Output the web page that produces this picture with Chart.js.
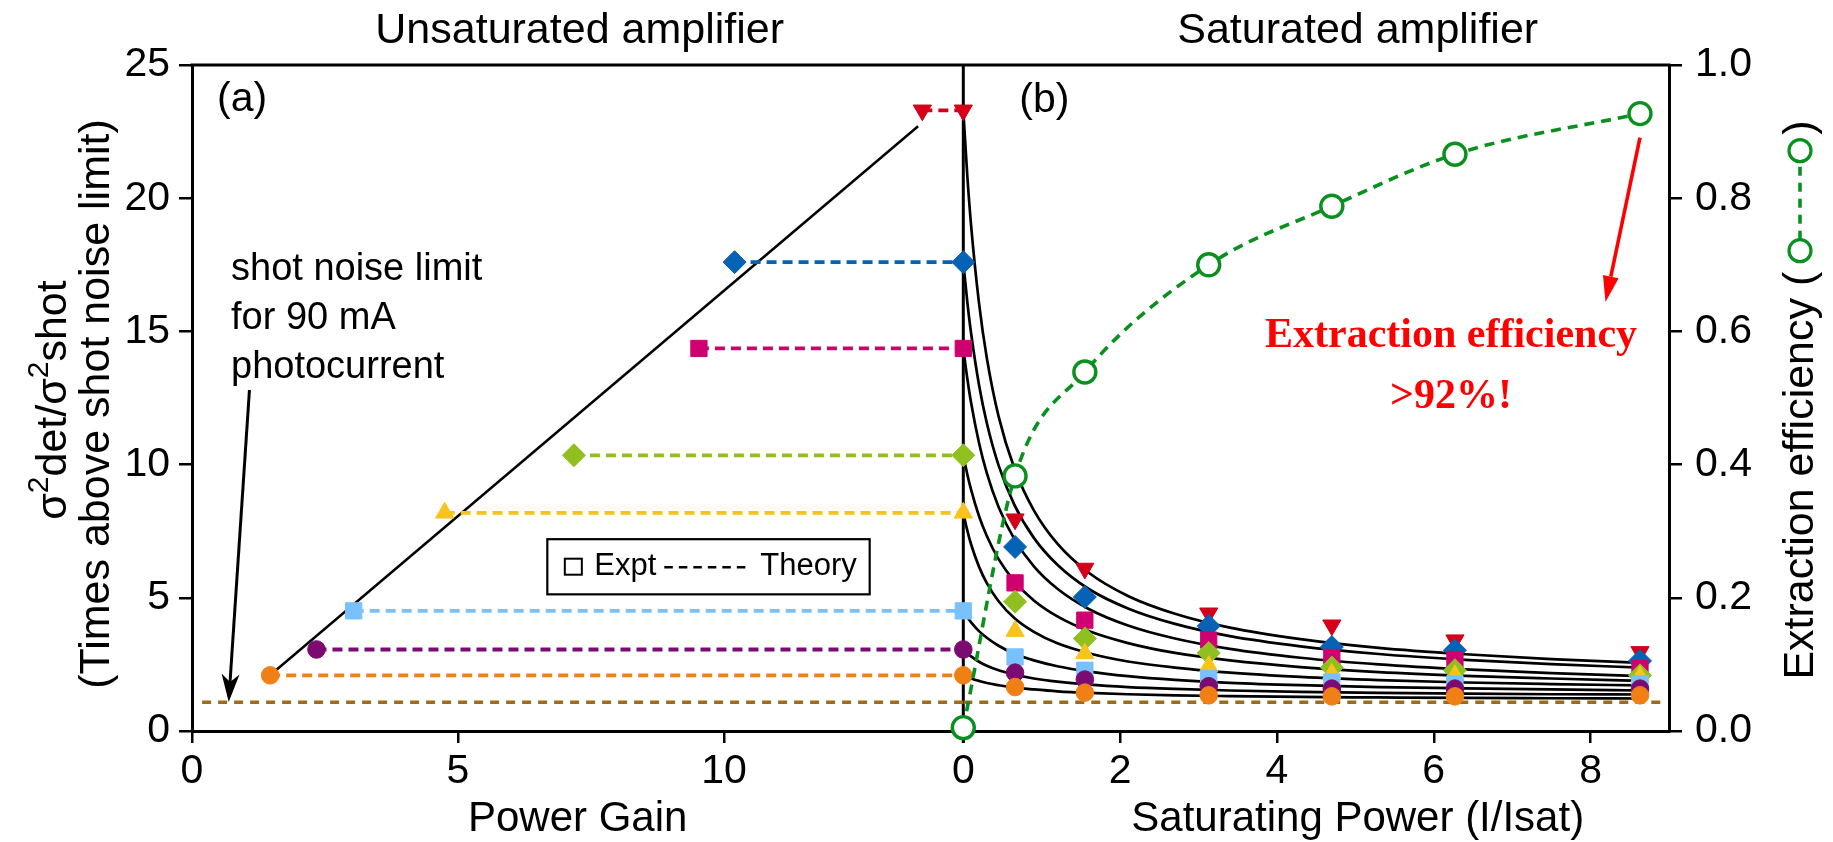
<!DOCTYPE html>
<html>
<head>
<meta charset="utf-8">
<title>Amplifier noise: unsaturated vs saturated</title>
<script src="https://cdn.jsdelivr.net/npm/chart.js@4.4.1/dist/chart.umd.min.js"></script>
<style>
html,body{margin:0;padding:0;background:#ffffff;overflow:hidden;}
#wrap{position:relative;width:1833px;height:842px;}
canvas{display:block;}
</style>
</head>
<body>
<div id="wrap"><canvas id="chart" width="1833" height="842"></canvas></div>
<script>
// ================= DATA =================
// Left panel (a): unsaturated amplifier, x = power gain
const gainValues   = [13.73, 10.2, 9.53, 7.18, 4.75, 3.04, 2.34, 1.47];
const unsatNoise   = [23.3, 17.6, 14.36, 10.35, 8.19, 4.51, 3.06, 2.09];
const gainLineX    = [1.5, 13.65];
const gainLineY    = [2.15, 22.7];
const shotNoiseLimit = 1.08;
const shotLimitGainX = [0.19, 14.5];
const shotLimitSatX  = [0, 8.95];

// Right panel (b): saturated amplifier, x = saturating power I/Isat
const satPower     = [0, 0.66, 1.55, 3.13, 4.70, 6.27, 8.63];
const noiseRed       = [23.3, 7.95, 6.10, 4.42, 3.97, 3.41, 2.97];
const noiseBlue      = [17.6, 6.91, 5.03, 3.94, 3.15, 3.03, 2.63];
const noisePink      = [14.36, 5.56, 4.16, 3.41, 2.76, 2.68, 2.34];
const noiseLime      = [10.35, 4.85, 3.47, 2.93, 2.38, 2.28, 2.09];
const noiseYellow    = [8.19, 3.75, 2.91, 2.43, 2.15, 2.09, 2.05];
const noiseLightBlue = [4.51, 2.78, 2.28, 1.97, 1.84, 1.78, 1.78];
const noisePurple    = [3.06, 2.19, 1.93, 1.68, 1.59, 1.59, 1.59];
const noiseOrange    = [2.09, 1.65, 1.44, 1.34, 1.30, 1.30, 1.34];

// Theory curves
const theoryPower = [0, 0.05, 0.1, 0.2, 0.3, 0.45, 0.65, 0.9, 1.2, 1.6, 2.1, 2.7, 3.4, 4.3, 5.3, 6.4, 7.5, 8.65];
const theoryRed       = [23.3, 20.89, 18.96, 16.07, 14.0, 11.81, 9.87, 8.28, 7.03, 5.94, 5.07, 4.4, 3.88, 3.45, 3.12, 2.88, 2.7, 2.56];
const theoryBlue      = [17.6, 16.14, 14.92, 13.0, 11.56, 9.97, 8.5, 7.25, 6.24, 5.33, 4.6, 4.02, 3.56, 3.18, 2.89, 2.67, 2.51, 2.38];
const theoryPink      = [14.36, 13.25, 12.31, 10.82, 9.68, 8.41, 7.21, 6.18, 5.34, 4.58, 3.96, 3.47, 3.08, 2.75, 2.5, 2.31, 2.17, 2.06];
const theoryLime      = [10.35, 9.65, 9.05, 8.07, 7.32, 6.45, 5.63, 4.9, 4.3, 3.75, 3.3, 2.93, 2.65, 2.4, 2.21, 2.07, 1.97, 1.88];
const theoryYellow    = [8.19, 7.54, 7.0, 6.17, 5.55, 4.87, 4.24, 3.72, 3.29, 2.92, 2.61, 2.38, 2.19, 2.03, 1.91, 1.82, 1.76, 1.71];
const theoryLightBlue = [4.51, 4.28, 4.08, 3.75, 3.5, 3.2, 2.9, 2.65, 2.43, 2.23, 2.06, 1.92, 1.81, 1.72, 1.65, 1.6, 1.56, 1.52];
const theoryPurple    = [3.06, 2.92, 2.8, 2.6, 2.45, 2.28, 2.12, 1.97, 1.85, 1.74, 1.65, 1.58, 1.52, 1.47, 1.43, 1.4, 1.38, 1.37];
const theoryOrange    = [2.09, 2.03, 1.97, 1.88, 1.8, 1.72, 1.63, 1.56, 1.49, 1.43, 1.38, 1.34, 1.31, 1.28, 1.26, 1.24, 1.23, 1.22];

// Extraction efficiency (right axis)
const efficiency = [0.005, 0.383, 0.539, 0.70, 0.788, 0.866, 0.927];

// Tick labels
const gainTicks  = [0, 5, 10];
const satTicks   = [0, 2, 4, 6, 8];
const noiseTicks = [0, 5, 10, 15, 20, 25];
const effTicks   = [0, 0.2, 0.4, 0.6, 0.8, 1.0];

// ================= STYLES =================
const SANS  = '"Liberation Sans", Arial, Helvetica, sans-serif';
const SERIF = '"Liberation Serif", "Times New Roman", serif';
const BROWN = '#9a6c1c';
const GREEN = '#0a901e';
const seriesStyle = [
  { color: '#d4001a', shape: 'triangle', radius: 10.5, rotation: 180 },
  { color: '#0562b4', shape: 'rectRot',  radius: 11.5, rotation: 0 },
  { color: '#cf0070', shape: 'rect',     radius: 11.5, rotation: 0 },
  { color: '#90c020', shape: 'rectRot',  radius: 11.5, rotation: 0 },
  { color: '#f7c31c', shape: 'triangle', radius: 10.5, rotation: 0 },
  { color: '#78c1fd', shape: 'rect',     radius: 11.5, rotation: 0 },
  { color: '#7b0b71', shape: 'circle',   radius: 8.8,  rotation: 0 },
  { color: '#f08015', shape: 'circle',   radius: 8.8,  rotation: 0 }
];
const saturatedNoise = [noiseRed, noiseBlue, noisePink, noiseLime, noiseYellow, noiseLightBlue, noisePurple, noiseOrange];
const theoryCurves = [theoryRed, theoryBlue, theoryPink, theoryLime, theoryYellow, theoryLightBlue, theoryPurple, theoryOrange];

const GAIN_MAX = 14.5, SAT_MAX = 9.0;

// ================= DATASETS =================
const datasets = [];
theoryCurves.forEach((curve, i) => {
  datasets.push({
    label: 'Theory ' + (i + 1), xAxisID: 'x2', yAxisID: 'y',
    data: theoryPower.map((x, j) => ({ x, y: curve[j] })),
    showLine: true, borderColor: '#000', borderWidth: 2.7, pointRadius: 0,
    cubicInterpolationMode: 'monotone', order: 60
  });
});
datasets.push({
  label: 'Gain theory', xAxisID: 'x1', yAxisID: 'y',
  data: gainLineX.map((x, j) => ({ x, y: gainLineY[j] })),
  showLine: true, borderColor: '#000', borderWidth: 2.5, pointRadius: 0, order: 60
});
datasets.push({
  label: 'Shot noise limit', xAxisID: 'x1', yAxisID: 'y',
  data: shotLimitGainX.map(x => ({ x, y: shotNoiseLimit })),
  showLine: true, borderColor: BROWN, borderWidth: 3.6, borderDash: [9, 7], pointRadius: 0, order: 55
});
datasets.push({
  label: 'Shot noise limit (b)', xAxisID: 'x2', yAxisID: 'y',
  data: shotLimitSatX.map(x => ({ x, y: shotNoiseLimit })),
  showLine: true, borderColor: BROWN, borderWidth: 3.6, borderDash: [9, 7], pointRadius: 0, order: 55
});
gainValues.forEach((g, i) => {
  const st = seriesStyle[i];
  datasets.push({
    label: 'Unsaturated ' + (i + 1), xAxisID: 'x1', yAxisID: 'y',
    data: [{ x: g, y: unsatNoise[i] }, { x: GAIN_MAX, y: unsatNoise[i] }],
    showLine: true, borderColor: st.color, borderWidth: 3.8, borderDash: [10, 6],
    pointStyle: st.shape, pointRotation: st.rotation, pointRadius: [st.radius, 0],
    pointBackgroundColor: st.color, pointBorderColor: st.color, pointBorderWidth: 1,
    clip: false, order: 40 - i
  });
});
saturatedNoise.forEach((arr, i) => {
  const st = seriesStyle[i];
  datasets.push({
    label: 'Saturated ' + (i + 1), xAxisID: 'x2', yAxisID: 'y',
    data: satPower.map((x, j) => ({ x, y: arr[j] })),
    showLine: false, pointStyle: st.shape, pointRotation: st.rotation, pointRadius: st.radius,
    pointBackgroundColor: st.color, pointBorderColor: st.color, pointBorderWidth: 1,
    clip: false, order: 20 - i
  });
});
datasets.push({
  label: 'Extraction efficiency', xAxisID: 'x2', yAxisID: 'y2',
  data: satPower.map((x, j) => ({ x, y: efficiency[j] })),
  showLine: true, borderColor: GREEN, borderWidth: 3.6, borderDash: [10, 7],
  cubicInterpolationMode: 'monotone',
  pointStyle: 'circle', pointRadius: 11, pointBackgroundColor: '#ffffff',
  pointBorderColor: GREEN, pointBorderWidth: 3.4, clip: false, order: 0
});

// ================= ANNOTATIONS =================
const notes = {
  shotArrow: { from: [1.08, 12.8], to: [0.69, 1.09] },      // x1 / y
  effArrow:  { from: [8.63, 0.891], to: [8.19, 0.644] },    // x2 / y2
  legendBox: { x: [6.68, 12.74], y: [7.2, 5.13] },          // x1 / y
  redText:   { x: 6.22, y: [14.41, 12.12] }                 // x2 / y
};

function drawArrow(ctx, x0, y0, x1, y1, color, lw, headLen, headHalf, notch) {
  const ang = Math.atan2(y1 - y0, x1 - x0);
  const c = Math.cos(ang), s = Math.sin(ang);
  const bx = x1 - headLen * c, by = y1 - headLen * s;
  ctx.save();
  ctx.setLineDash([]);
  ctx.strokeStyle = color; ctx.lineWidth = lw; ctx.lineCap = 'butt';
  ctx.beginPath(); ctx.moveTo(x0, y0); ctx.lineTo(bx + notch * c, by + notch * s); ctx.stroke();
  ctx.fillStyle = color;
  ctx.beginPath();
  ctx.moveTo(x1, y1);
  ctx.lineTo(bx - headHalf * s, by + headHalf * c);
  ctx.lineTo(bx + notch * c, by + notch * s);
  ctx.lineTo(bx + headHalf * s, by - headHalf * c);
  ctx.closePath(); ctx.fill();
  ctx.restore();
}

function text(ctx, str, x, y, font, color, align) {
  ctx.font = font; ctx.fillStyle = color; ctx.textAlign = align || 'left';
  ctx.textBaseline = 'alphabetic'; ctx.fillText(str, x, y);
}

const decor = {
  id: 'decor',
  beforeDatasetsDraw(chart) {
    const ctx = chart.ctx, a = chart.chartArea, s = chart.scales;
    ctx.save();
    ctx.strokeStyle = '#000'; ctx.lineWidth = 3; ctx.setLineDash([]);
    ctx.beginPath(); ctx.moveTo(a.left - 1.5, a.top); ctx.lineTo(a.right + 1.5, a.top); ctx.stroke();
    const xd = s.x2.getPixelForValue(0);
    ctx.beginPath(); ctx.moveTo(xd, a.top); ctx.lineTo(xd, a.bottom + 12); ctx.stroke();
    ctx.restore();
  },
  afterDatasetsDraw(chart) {
    const ctx = chart.ctx, a = chart.chartArea, s = chart.scales;
    const X1 = v => s.x1.getPixelForValue(v), X2 = v => s.x2.getPixelForValue(v);
    const Y = v => s.y.getPixelForValue(v), Y2 = v => s.y2.getPixelForValue(v);
    ctx.save();

    // Panel titles
    const leftMid = (s.x1.left + s.x1.right) / 2;
    text(ctx, 'Unsaturated amplifier', leftMid + 2, 43, '43px ' + SANS, '#000', 'center');
    text(ctx, 'Saturated amplifier', X2(5.03), 43, '43px ' + SANS, '#000', 'center');
    // Axis titles
    text(ctx, 'Power Gain', leftMid, 831, '42px ' + SANS, '#000', 'center');
    text(ctx, 'Saturating Power (I/Isat)', X2(5.03), 831, '42px ' + SANS, '#000', 'center');
    // Panel letters
    text(ctx, '(a)', a.left + 25, 111, '41px ' + SANS, '#000', 'left');
    text(ctx, '(b)', X2(0) + 56, 112, '41px ' + SANS, '#000', 'left');
    // Shot noise note
    text(ctx, 'shot noise limit', a.left + 39, 280, '38px ' + SANS, '#000', 'left');
    text(ctx, 'for 90 mA', a.left + 39, 329, '38px ' + SANS, '#000', 'left');
    text(ctx, 'photocurrent', a.left + 39, 378, '38px ' + SANS, '#000', 'left');
    drawArrow(ctx, X1(notes.shotArrow.from[0]), Y(notes.shotArrow.from[1]),
              X1(notes.shotArrow.to[0]), Y(notes.shotArrow.to[1]), '#000', 3, 28, 9, 8);

    // Legend box
    const bl = X1(notes.legendBox.x[0]), br = X1(notes.legendBox.x[1]);
    const bt = Y(notes.legendBox.y[0]), bb = Y(notes.legendBox.y[1]);
    ctx.setLineDash([]);
    ctx.fillStyle = '#fff'; ctx.fillRect(bl, bt, br - bl, bb - bt);
    ctx.strokeStyle = '#000'; ctx.lineWidth = 2.2; ctx.strokeRect(bl, bt, br - bl, bb - bt);
    ctx.lineWidth = 2; ctx.strokeRect(bl + 17.5, bt + 19.5, 17, 16);
    text(ctx, 'Expt', bl + 47, bt + 36, '31px ' + SANS, '#000', 'left');
    ctx.setLineDash([8.5, 6]); ctx.lineWidth = 2.6;
    ctx.beginPath(); ctx.moveTo(bl + 117, bt + 28); ctx.lineTo(bl + 203, bt + 28); ctx.stroke();
    ctx.setLineDash([]);
    text(ctx, 'Theory', bl + 213, bt + 36, '31px ' + SANS, '#000', 'left');

    // Red annotation
    text(ctx, 'Extraction efficiency', X2(notes.redText.x), Y(notes.redText.y[0]), 'bold 42px ' + SERIF, '#ff0000', 'center');
    text(ctx, '>92%!', X2(notes.redText.x), Y(notes.redText.y[1]), 'bold 42px ' + SERIF, '#ff0000', 'center');
    drawArrow(ctx, X2(notes.effArrow.from[0]), Y2(notes.effArrow.from[1]),
              X2(notes.effArrow.to[0]), Y2(notes.effArrow.to[1]), '#ff0000', 3.6, 26, 8, 0);

    // Left y-axis title (two rotated lines)
    const cy = (a.top + a.bottom) / 2;
    ctx.save();
    ctx.translate(66, cy + 2); ctx.rotate(-Math.PI / 2);
    ctx.textBaseline = 'alphabetic'; ctx.textAlign = 'left'; ctx.fillStyle = '#000';
    const runs = [
      { t: '\u03c3', f: '43px ' + SANS, r: 0 }, { t: '2', f: '30px ' + SANS, r: 18 },
      { t: 'det/\u03c3', f: '43px ' + SANS, r: 0 }, { t: '2', f: '30px ' + SANS, r: 18 },
      { t: 'shot', f: '43px ' + SANS, r: 0 }
    ];
    let tw = 0;
    runs.forEach(r => { ctx.font = r.f; r.w = ctx.measureText(r.t).width; tw += r.w; });
    let px = -tw / 2;
    runs.forEach(r => { ctx.font = r.f; ctx.fillText(r.t, px, -r.r); px += r.w; });
    ctx.restore();
    ctx.save();
    ctx.translate(109, cy + 6); ctx.rotate(-Math.PI / 2);
    text(ctx, '(Times above shot noise limit)', 0, 0, '43px ' + SANS, '#000', 'center');
    ctx.restore();

    // Right y-axis title with symbol
    ctx.save();
    ctx.translate(1813, 0); ctx.rotate(-Math.PI / 2);
    ctx.font = '43px ' + SANS;
    const t1 = 'Extraction efficiency (', t2 = ')';
    const w1 = ctx.measureText(t1).width, w2 = ctx.measureText(t2).width;
    const gap1 = 10, gap2 = 5, symLen = 122;
    const total = w1 + gap1 + symLen + gap2 + w2;
    const start = -(cy + 2 + total / 2);
    text(ctx, t1, start, 0, '43px ' + SANS, '#000', 'left');
    const p = start + w1 + gap1;
    const yc = -13;
    ctx.strokeStyle = GREEN; ctx.lineWidth = 3.6; ctx.setLineDash([9, 7]);
    ctx.beginPath(); ctx.moveTo(p + 22, yc); ctx.lineTo(p + 100, yc); ctx.stroke();
    ctx.setLineDash([]); ctx.lineWidth = 3.2; ctx.fillStyle = '#fff';
    [p + 11, p + 111].forEach(cx => { ctx.beginPath(); ctx.arc(cx, yc, 11, 0, Math.PI * 2); ctx.fill(); ctx.stroke(); });
    text(ctx, t2, p + symLen + gap2, 0, '43px ' + SANS, '#000', 'left');
    ctx.restore();

    ctx.restore();
  }
};

// ================= SCALES =================
const tickFont = { family: SANS, size: 41 };
function axis(extra) {
  return Object.assign({
    type: 'linear',
    border: { display: true, color: '#000', width: 3 },
    grid: { display: true, drawOnChartArea: false, drawTicks: true, tickLength: 12, color: '#000', lineWidth: 2.5 },
    title: { display: false }
  }, extra);
}
const fixedTicks = vals => (scale) => { scale.ticks = vals.map(v => ({ value: v })); };

new Chart(document.getElementById('chart'), {
  type: 'scatter',
  data: { datasets },
  options: {
    responsive: false, animation: false, devicePixelRatio: 1, events: [],
    layout: { padding: { top: 65, left: 0, right: 0, bottom: 0 } },
    plugins: { legend: { display: false }, tooltip: { enabled: false } },
    scales: {
      x1: axis({
        position: 'bottom', stack: 'bottomStack', stackWeight: 771.3, min: 0, max: GAIN_MAX,
        ticks: { font: tickFont, color: '#000', padding: 4, maxRotation: 0, autoSkip: false, includeBounds: false },
        afterBuildTicks: fixedTicks(gainTicks),
        afterFit: sc => { sc.height = 111; }
      }),
      x2: axis({
        position: 'bottom', stack: 'bottomStack', stackWeight: 705.7, min: 0, max: SAT_MAX,
        ticks: { font: tickFont, color: '#000', padding: 4, maxRotation: 0, autoSkip: false, includeBounds: false },
        afterBuildTicks: fixedTicks(satTicks),
        afterFit: sc => { sc.height = 111; }
      }),
      y: axis({
        position: 'left', min: 0, max: 25,
        grid: { display: true, drawOnChartArea: false, drawTicks: true, tickLength: 13, color: '#000', lineWidth: 2.5 },
        ticks: { font: tickFont, color: '#000', padding: 9 },
        afterBuildTicks: fixedTicks(noiseTicks),
        afterFit: sc => { sc.width = 192; }
      }),
      y2: axis({
        position: 'right', min: 0, max: 1,
        grid: { display: true, drawOnChartArea: false, drawTicks: true, tickLength: 13, color: '#000', lineWidth: 2.5 },
        ticks: { font: tickFont, color: '#000', padding: 13, callback: v => Number(v).toFixed(1) },
        afterBuildTicks: fixedTicks(effTicks),
        afterFit: sc => { sc.width = 164; }
      })
    }
  },
  plugins: [decor]
});
</script>
</body>
</html>
